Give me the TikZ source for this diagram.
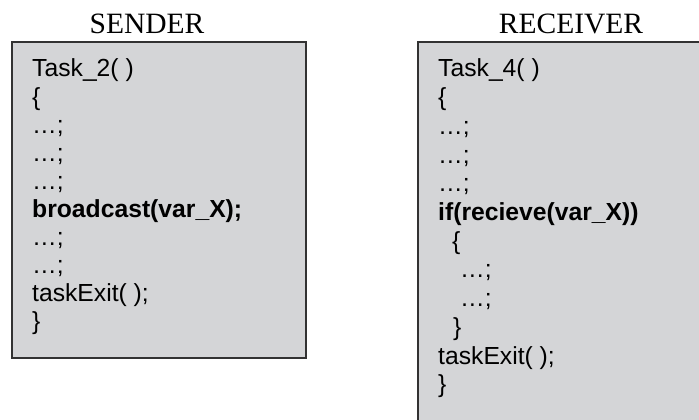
\documentclass[tikz,border=0pt]{standalone}
\usepackage{fontspec}
\setmainfont{Liberation Sans}
\newfontfamily\titlefont{Liberation Serif}
\definecolor{boxfill}{RGB}{212,213,215}
\definecolor{boxline}{RGB}{50,50,50}
\begin{document}
\begin{tikzpicture}[x=1pt,y=-1pt,
  code/.style={anchor=base west,inner sep=0pt,font=\fontsize{24.7}{28}\selectfont},
  boldcode/.style={code,font=\fontsize{24.7}{28}\selectfont\bfseries},
  title/.style={anchor=base,inner sep=0pt,font=\titlefont\fontsize{29.5}{32}\selectfont},
  panel/.style={fill=boxfill,draw=boxline,line width=1.5pt}]
\useasboundingbox (0,0) rectangle (699,420);
% sender
\node[title] (sendt) at (147,34) {SENDER};
\draw[panel] (12,42) rectangle (306,358);
\def\s{28.1}
\node[code] (s1) at (32,77) {Task\_2( )};
\node[code] (s2) at (32,77+\s) {\{};
\node[code] (s3) at (32,77+2*\s) {…;};
\node[code] (s4) at (32,77+3*\s) {…;};
\node[code] (s5) at (32,77+4*\s) {…;};
\node[boldcode] (s6) at (32,77+5*\s) {broadcast(var\_X);};
\node[code] (s7) at (32,77+6*\s) {…;};
\node[code] (s8) at (32,77+7*\s) {…;};
\node[code] (s9) at (32,77+8*\s) {taskExit( );};
\node[code] (s10) at (32,77+9*\s) {\}};
% receiver
\node[title] (recvt) at (571,34) {RECEIVER};
\fill[boxfill] (418,42) rectangle (699,420);
\draw[boxline,line width=1.5pt] (418,420) -- (418,42) -- (699,42);
\def\r{28.7}
\node[code] (r1) at (438,77) {Task\_4( )};
\node[code] (r2) at (438,77+\r) {\{};
\node[code] (r3) at (438,77+2*\r) {…;};
\node[code] (r4) at (438,77+3*\r) {…;};
\node[code] (r5) at (438,77+4*\r) {…;};
\node[boldcode] (r6) at (438,77+5*\r) {if(recieve(var\_X))};
\node[code] (r7) at (452,77+6*\r) {\{};
\node[code] (r8) at (460,77+7*\r) {…;};
\node[code] (r9) at (460,77+8*\r) {…;};
\node[code] (r10) at (453,77+9*\r) {\}};
\node[code] (r11) at (438,77+10*\r) {taskExit( );};
\node[code] (r12) at (438,77+11*\r) {\}};
\end{tikzpicture}
\end{document}
